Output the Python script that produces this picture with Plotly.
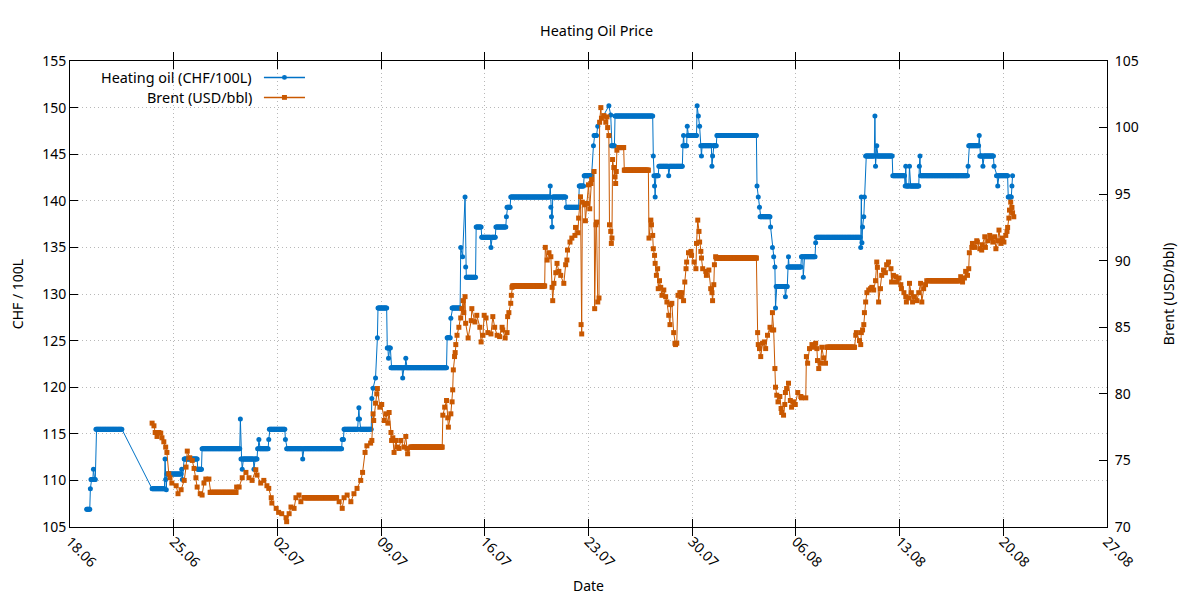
import pandas as pd
import plotly.graph_objects as go

YEAR = "2018"

# heating oil (CHF/100L): spans where the quote stayed flat (start, end, price)
oil_flat = [
    ("06-19 03:00", "06-19 08:00", 106.9),
    ("06-19 10:00", "06-19 13:00", 110.1),
    ("06-19 15:00", "06-19 17:00", 110.1),
    ("06-19 18:00", "06-21 12:00", 115.5),
    ("06-23 13:00", "06-24 09:00", 109.1),
    ("06-24 13:00", "06-25 12:00", 110.7),
    ("06-25 17:00", "06-26 14:00", 112.3),
    ("06-26 15:00", "06-26 21:00", 111.2),
    ("06-26 22:00", "06-29 11:00", 113.4),
    ("06-29 13:00", "06-30 15:00", 112.3),
    ("06-30 16:00", "07-01 09:00", 113.4),
    ("07-01 11:00", "07-02 12:00", 115.5),
    ("07-02 15:00", "07-06 08:00", 113.4),
    ("07-06 09:00", "07-06 11:00", 114.4),
    ("07-06 12:00", "07-08 08:00", 115.5),
    ("07-08 19:00", "07-09 09:00", 128.5),
    ("07-09 10:00", "07-09 15:00", 124.2),
    ("07-09 16:00", "07-13 10:00", 122.1),
    ("07-13 11:00", "07-13 16:00", 125.3),
    ("07-13 19:00", "07-14 08:00", 128.5),
    ("07-14 18:00", "07-15 09:00", 131.8),
    ("07-15 10:00", "07-15 18:00", 137.2),
    ("07-15 19:00", "07-16 17:00", 136.1),
    ("07-16 18:00", "07-17 10:00", 137.2),
    ("07-17 12:00", "07-17 17:00", 139.3),
    ("07-17 18:00", "07-21 11:00", 140.4),
    ("07-21 12:00", "07-22 08:00", 139.3),
    ("07-22 09:00", "07-22 16:00", 141.6),
    ("07-22 17:00", "07-23 05:00", 142.7),
    ("07-23 09:00", "07-23 13:00", 147.0),
    ("07-24 13:00", "07-24 18:00", 145.9),
    ("07-24 19:00", "07-27 08:00", 149.1),
    ("07-27 10:00", "07-27 17:00", 142.7),
    ("07-27 18:00", "07-29 08:00", 143.7),
    ("07-29 09:00", "07-29 15:00", 145.9),
    ("07-29 17:00", "07-30 07:00", 147.0),
    ("07-30 14:00", "07-31 15:00", 145.9),
    ("07-31 16:00", "08-03 08:00", 147.0),
    ("08-03 14:00", "08-04 06:00", 138.3),
    ("08-04 16:00", "08-05 10:00", 130.8),
    ("08-05 11:00", "08-06 08:00", 132.9),
    ("08-06 09:00", "08-07 07:00", 134.0),
    ("08-07 09:00", "08-10 08:00", 136.1),
    ("08-10 17:00", "08-12 12:00", 144.8),
    ("08-12 13:00", "08-13 08:00", 142.7),
    ("08-13 09:00", "08-14 07:00", 141.6),
    ("08-14 10:00", "08-17 14:00", 142.7),
    ("08-17 16:00", "08-18 08:00", 145.9),
    ("08-18 10:00", "08-19 08:00", 144.8),
    ("08-19 13:00", "08-20 07:00", 142.7),
    ("08-20 08:00", "08-20 13:00", 140.4),
]

# heating oil: single quotes between / inside the flat spans
oil_quotes = [
    ("06-19 09:00", 109.1), ("06-19 14:00", 111.2),
    ("06-24 10:00", 112.3), ("06-24 11:00", 110.1), ("06-24 12:00", 109.0),
    ("06-25 13:00", 111.2), ("06-25 14:00", 110.1),
    ("06-29 12:00", 116.6), ("06-29 15:00", 111.2), ("06-30 10:00", 111.2),
    ("06-30 18:00", 114.4), ("07-01 10:00", 114.4), ("07-02 13:00", 114.4),
    ("07-03 17:00", 112.3),
    ("07-07 11:00", 116.6), ("07-07 12:00", 117.8), ("07-07 13:00", 116.6),
    ("07-08 09:00", 118.8), ("07-08 11:00", 119.9), ("07-08 15:00", 121.0),
    ("07-08 18:00", 125.3), ("07-09 12:00", 123.1),
    ("07-10 11:00", 121.0), ("07-10 16:00", 123.1), ("07-13 17:00", 127.4),
    ("07-14 09:00", 135.0), ("07-14 12:00", 134.0), ("07-14 16:00", 140.4),
    ("07-14 17:00", 132.9), ("07-16 10:00", 135.0), ("07-17 11:00", 138.3),
    ("07-20 10:00", 141.6), ("07-20 11:00", 139.3), ("07-20 12:00", 138.3),
    ("07-20 13:00", 137.2),
    ("07-23 08:00", 145.9), ("07-23 15:00", 148.0),
    ("07-24 09:00", 150.2), ("07-24 12:00", 149.2),
    ("07-27 09:00", 144.8), ("07-27 11:00", 141.6), ("07-27 12:00", 140.4),
    ("07-28 10:00", 142.7),
    ("07-29 10:00", 147.0), ("07-29 16:00", 148.0),
    ("07-30 08:00", 150.2), ("07-30 10:00", 149.1), ("07-30 12:00", 148.0),
    ("07-30 15:00", 144.8), ("07-31 08:00", 143.7), ("07-31 09:00", 144.8),
    ("08-03 09:00", 141.6), ("08-03 11:00", 140.4), ("08-03 13:00", 139.3),
    ("08-04 07:00", 137.2), ("08-04 10:00", 135.0), ("08-04 12:00", 134.0),
    ("08-04 14:00", 132.9), ("08-04 15:00", 128.5), ("08-05 07:00", 129.7),
    ("08-05 12:00", 134.0), ("08-06 12:00", 131.8), ("08-07 08:00", 135.5),
    ("08-10 09:00", 135.0), ("08-10 10:00", 140.4), ("08-10 11:00", 135.5),
    ("08-10 12:00", 137.2), ("08-10 14:00", 138.3), ("08-10 15:00", 140.4),
    ("08-11 08:00", 149.1), ("08-11 09:00", 143.7), ("08-11 11:00", 145.9),
    ("08-13 10:00", 143.7), ("08-13 16:00", 143.7),
    ("08-14 08:00", 143.7), ("08-14 09:00", 144.8),
    ("08-17 15:00", 143.7), ("08-18 09:00", 147.0), ("08-18 15:00", 143.7),
    ("08-19 09:00", 143.7), ("08-19 15:00", 141.6),
    ("08-20 14:00", 141.6), ("08-20 15:00", 142.7),
]

# brent (USD/bbl): flat spans
brent_flat = [
    ("06-27 11:00", "06-29 05:00", 72.6),
    ("07-03 20:00", "07-06 00:00", 72.2),
    ("07-11 00:00", "07-13 03:00", 76.0),
    ("07-17 21:00", "07-20 01:00", 88.1),
    ("07-25 01:00", "07-25 09:00", 98.5),
    ("07-25 10:00", "07-27 01:00", 96.8),
    ("07-31 15:00", "08-03 08:00", 90.2),
    ("08-08 02:00", "08-09 23:00", 83.5),
    ("08-14 23:00", "08-17 02:00", 88.5),
]

brent_quotes = [
    ("06-23 13:00", 77.8), ("06-23 16:00", 77.6), ("06-23 18:00", 77.1),
    ("06-23 21:00", 76.8), ("06-24 00:00", 77.1), ("06-24 03:00", 77.05),
    ("06-24 05:00", 76.7), ("06-24 08:00", 76.4), ("06-24 11:00", 76.0),
    ("06-24 13:00", 75.6), ("06-24 16:00", 74.0), ("06-24 18:00", 73.7),
    ("06-24 21:00", 73.3), ("06-25 04:00", 73.1), ("06-25 07:00", 72.5),
    ("06-25 12:00", 72.8), ("06-25 17:00", 73.5), ("06-25 20:00", 74.5),
    ("06-25 22:00", 75.7), ("06-26 02:00", 75.2), ("06-26 06:00", 75.0),
    ("06-26 09:00", 74.4), ("06-26 12:00", 73.7), ("06-26 14:00", 73.0),
    ("06-26 19:00", 72.5), ("06-26 22:00", 72.4), ("06-27 01:00", 73.3),
    ("06-27 04:00", 73.6), ("06-27 09:00", 73.6),
    ("06-29 06:00", 73.0), ("06-29 10:00", 73.0), ("06-29 15:00", 73.7),
    ("06-29 21:00", 74.1), ("06-30 02:00", 73.7), ("06-30 07:00", 73.5),
    ("06-30 13:00", 74.3), ("06-30 15:00", 73.9), ("06-30 21:00", 73.3),
    ("07-01 02:00", 73.5), ("07-01 07:00", 73.1), ("07-01 10:00", 72.9),
    ("07-01 14:00", 72.2), ("07-01 15:00", 71.8), ("07-01 22:00", 71.4),
    ("07-02 02:00", 71.1), ("07-02 07:00", 71.0), ("07-02 14:00", 70.7),
    ("07-02 15:00", 70.4), ("07-02 19:00", 71.0), ("07-02 22:00", 71.5),
    ("07-03 03:00", 71.4), ("07-03 06:00", 72.2), ("07-03 11:00", 72.4),
    ("07-03 14:00", 71.9), ("07-03 19:00", 72.2),
    ("07-06 04:00", 71.9), ("07-06 09:00", 71.4), ("07-06 12:00", 72.2),
    ("07-06 17:00", 72.4), ("07-06 23:00", 71.9), ("07-07 04:00", 72.5),
    ("07-07 09:00", 72.9), ("07-07 15:00", 73.5), ("07-07 18:00", 74.1),
    ("07-07 22:00", 75.6), ("07-08 01:00", 76.1), ("07-08 07:00", 76.3),
    ("07-08 09:00", 76.5), ("07-08 11:00", 78.5), ("07-08 12:00", 78.0),
    ("07-08 15:00", 79.3), ("07-08 17:00", 80.0), ("07-08 18:00", 80.4),
    ("07-08 22:00", 79.0), ("07-09 01:00", 79.2), ("07-09 05:00", 78.0),
    ("07-09 08:00", 78.5), ("07-09 11:00", 77.8), ("07-09 13:00", 78.6),
    ("07-09 16:00", 77.1), ("07-09 17:00", 76.5), ("07-09 19:00", 76.7),
    ("07-09 21:00", 75.6), ("07-10 00:00", 76.5), ("07-10 02:00", 76.0),
    ("07-10 05:00", 75.9), ("07-10 08:00", 76.5), ("07-10 13:00", 76.0),
    ("07-10 16:00", 76.8), ("07-10 18:00", 75.9), ("07-10 19:00", 75.5),
    ("07-13 04:00", 78.4), ("07-13 07:00", 79.0), ("07-13 10:00", 79.5),
    ("07-13 12:00", 78.2), ("07-13 13:00", 77.5), ("07-13 17:00", 78.5),
    ("07-13 19:00", 79.4), ("07-13 20:00", 80.3), ("07-13 21:00", 81.8),
    ("07-13 23:00", 82.8), ("07-14 00:00", 83.1), ("07-14 01:00", 83.7),
    ("07-14 03:00", 84.4), ("07-14 06:00", 85.0), ("07-14 09:00", 85.7),
    ("07-14 11:00", 86.4), ("07-14 13:00", 87.0), ("07-14 14:00", 86.1),
    ("07-14 16:00", 87.3), ("07-14 17:00", 85.3), ("07-14 21:00", 84.2),
    ("07-15 02:00", 85.5), ("07-15 03:00", 86.4), ("07-15 08:00", 85.4),
    ("07-15 11:00", 85.9), ("07-15 16:00", 85.0), ("07-15 18:00", 83.9),
    ("07-15 21:00", 84.4), ("07-15 23:00", 85.9), ("07-16 02:00", 85.7),
    ("07-16 05:00", 84.6), ("07-16 10:00", 84.5), ("07-16 13:00", 85.8),
    ("07-16 16:00", 85.0), ("07-16 20:00", 84.4), ("07-17 00:00", 84.3),
    ("07-17 04:00", 85.0), ("07-17 05:00", 84.8), ("07-17 09:00", 84.2),
    ("07-17 12:00", 84.6), ("07-17 13:00", 85.8), ("07-17 15:00", 86.1),
    ("07-17 18:00", 86.8), ("07-17 19:00", 87.4), ("07-17 20:00", 88.0),
    ("07-20 02:00", 91.0), ("07-20 05:00", 90.05), ("07-20 08:00", 90.6),
    ("07-20 11:00", 90.3), ("07-20 13:00", 88.0), ("07-20 14:00", 87.0),
    ("07-20 16:00", 88.3), ("07-20 19:00", 89.1), ("07-20 21:00", 89.8),
    ("07-21 00:00", 89.2), ("07-21 03:00", 88.9), ("07-21 08:00", 88.3),
    ("07-21 11:00", 89.7), ("07-21 13:00", 90.05), ("07-21 14:00", 90.8),
    ("07-21 18:00", 91.4), ("07-21 21:00", 91.7), ("07-22 02:00", 91.9),
    ("07-22 03:00", 92.5), ("07-22 07:00", 92.1), ("07-22 08:00", 93.2),
    ("07-22 11:00", 94.8), ("07-22 12:00", 85.2), ("07-22 13:00", 84.5),
    ("07-22 14:00", 94.4), ("07-22 18:00", 94.2), ("07-22 19:00", 93.0),
    ("07-22 21:00", 94.3), ("07-23 00:00", 95.7), ("07-23 02:00", 93.9),
    ("07-23 04:00", 95.8), ("07-23 05:00", 96.1), ("07-23 09:00", 96.7),
    ("07-23 10:00", 86.4), ("07-23 12:00", 92.7), ("07-23 13:00", 92.9),
    ("07-23 15:00", 86.9), ("07-23 17:00", 87.2), ("07-23 18:00", 100.4),
    ("07-23 20:00", 101.5), ("07-23 21:00", 100.7), ("07-24 01:00", 100.9),
    ("07-24 04:00", 100.4), ("07-24 06:00", 100.8), ("07-24 07:00", 100.0),
    ("07-24 09:00", 99.4), ("07-24 10:00", 92.7), ("07-24 12:00", 92.2),
    ("07-24 13:00", 91.3), ("07-24 14:00", 91.7), ("07-24 15:00", 97.6),
    ("07-24 17:00", 97.0), ("07-24 19:00", 96.3), ("07-24 20:00", 95.8),
    ("07-24 21:00", 96.7), ("07-24 22:00", 98.3),
    ("07-27 02:00", 91.7), ("07-27 05:00", 93.05), ("07-27 06:00", 92.7),
    ("07-27 08:00", 91.9), ("07-27 09:00", 90.9), ("07-27 11:00", 90.4),
    ("07-27 12:00", 89.8), ("07-27 14:00", 88.9), ("07-27 16:00", 89.4),
    ("07-27 17:00", 87.9), ("07-27 19:00", 88.5), ("07-27 21:00", 88.0),
    ("07-27 23:00", 87.4), ("07-28 02:00", 87.8), ("07-28 05:00", 87.3),
    ("07-28 07:00", 86.9), ("07-28 10:00", 85.9), ("07-28 12:00", 85.2),
    ("07-28 13:00", 86.7), ("07-28 15:00", 86.8), ("07-28 18:00", 84.6),
    ("07-28 20:00", 83.8), ("07-28 21:00", 83.7), ("07-28 23:00", 83.8),
    ("07-29 01:00", 87.4), ("07-29 04:00", 87.6), ("07-29 06:00", 87.3),
    ("07-29 07:00", 87.6), ("07-29 10:00", 87.0), ("07-29 12:00", 88.4),
    ("07-29 14:00", 89.4), ("07-29 15:00", 89.9), ("07-29 18:00", 90.6),
    ("07-29 22:00", 90.7), ("07-29 23:00", 90.4), ("07-30 03:00", 89.9),
    ("07-30 06:00", 89.4), ("07-30 07:00", 91.3), ("07-30 09:00", 93.05),
    ("07-30 11:00", 92.2), ("07-30 12:00", 91.4), ("07-30 14:00", 90.7),
    ("07-30 15:00", 90.2), ("07-30 17:00", 89.4), ("07-30 22:00", 89.2),
    ("07-30 23:00", 88.9), ("07-31 03:00", 89.3), ("07-31 06:00", 87.9),
    ("07-31 08:00", 87.6), ("07-31 09:00", 87.0), ("07-31 11:00", 88.2),
    ("07-31 12:00", 89.7), ("07-31 14:00", 90.3),
    ("08-03 10:00", 84.6), ("08-03 11:00", 83.7), ("08-03 13:00", 83.4),
    ("08-03 15:00", 82.8), ("08-03 18:00", 83.8), ("08-03 21:00", 83.9),
    ("08-03 23:00", 83.4), ("08-04 02:00", 84.4), ("08-04 06:00", 85.0),
    ("08-04 09:00", 84.8), ("08-04 10:00", 86.1), ("08-04 12:00", 84.8),
    ("08-04 14:00", 81.9), ("08-04 15:00", 80.5), ("08-04 17:00", 79.9),
    ("08-04 19:00", 79.4), ("08-04 22:00", 79.8), ("08-05 00:00", 78.9),
    ("08-05 01:00", 78.6), ("08-05 04:00", 78.4), ("08-05 06:00", 79.2),
    ("08-05 07:00", 80.1), ("08-05 09:00", 80.4), ("08-05 12:00", 80.8),
    ("08-05 15:00", 79.5), ("08-05 17:00", 79.0), ("08-05 20:00", 79.4),
    ("08-05 23:00", 79.2), ("08-06 03:00", 80.1), ("08-06 08:00", 79.8),
    ("08-06 09:00", 79.7), ("08-06 16:00", 79.7), ("08-06 17:00", 82.8),
    ("08-06 19:00", 82.3), ("08-06 22:00", 83.4), ("08-07 02:00", 83.7),
    ("08-07 05:00", 83.5), ("08-07 08:00", 83.8), ("08-07 10:00", 83.4),
    ("08-07 11:00", 82.5), ("08-07 13:00", 81.9), ("08-07 16:00", 82.3),
    ("08-07 18:00", 83.5), ("08-07 21:00", 82.7), ("08-08 00:00", 82.3),
    ("08-10 01:00", 84.4), ("08-10 02:00", 84.6), ("08-10 07:00", 84.0),
    ("08-10 09:00", 83.7), ("08-10 10:00", 84.6), ("08-10 12:00", 84.8),
    ("08-10 14:00", 85.2), ("08-10 15:00", 86.1), ("08-10 17:00", 86.9),
    ("08-10 19:00", 87.6), ("08-10 22:00", 87.8), ("08-11 01:00", 87.9),
    ("08-11 03:00", 88.0), ("08-11 06:00", 87.8), ("08-11 09:00", 88.5),
    ("08-11 11:00", 89.9), ("08-11 12:00", 89.5), ("08-11 14:00", 86.9),
    ("08-11 17:00", 87.9), ("08-11 19:00", 88.9), ("08-11 22:00", 89.3),
    ("08-12 01:00", 89.1), ("08-12 03:00", 89.7), ("08-12 06:00", 89.9),
    ("08-12 10:00", 89.4), ("08-12 11:00", 88.4), ("08-12 14:00", 88.9),
    ("08-12 18:00", 88.8), ("08-12 19:00", 88.4), ("08-12 23:00", 88.7),
    ("08-13 02:00", 88.2), ("08-13 03:00", 87.9), ("08-13 07:00", 87.6),
    ("08-13 10:00", 87.3), ("08-13 11:00", 86.9), ("08-13 15:00", 87.2),
    ("08-13 16:00", 88.3), ("08-13 19:00", 87.6), ("08-13 21:00", 86.9),
    ("08-14 00:00", 87.3), ("08-14 04:00", 87.0), ("08-14 07:00", 87.6),
    ("08-14 10:00", 88.3), ("08-14 12:00", 86.9), ("08-14 15:00", 87.9),
    ("08-14 18:00", 88.2), ("08-14 20:00", 88.5),
    ("08-17 03:00", 88.8), ("08-17 06:00", 88.4), ("08-17 09:00", 88.7),
    ("08-17 11:00", 89.2), ("08-17 14:00", 88.9), ("08-17 16:00", 89.4),
    ("08-17 17:00", 90.6), ("08-17 21:00", 91.0), ("08-17 22:00", 91.3),
    ("08-18 02:00", 91.0), ("08-18 05:00", 91.5), ("08-18 06:00", 91.4),
    ("08-18 10:00", 90.9), ("08-18 13:00", 90.8), ("08-18 14:00", 91.2),
    ("08-18 18:00", 91.8), ("08-18 19:00", 91.0), ("08-18 23:00", 91.5),
    ("08-19 02:00", 91.9), ("08-19 04:00", 91.7), ("08-19 07:00", 91.4),
    ("08-19 10:00", 91.8), ("08-19 12:00", 90.9), ("08-19 15:00", 91.5),
    ("08-19 17:00", 92.3), ("08-19 20:00", 91.3), ("08-19 22:00", 91.7),
    ("08-20 01:00", 91.4), ("08-20 04:00", 91.9), ("08-20 06:00", 92.2),
    ("08-20 07:00", 92.5), ("08-20 09:00", 93.2), ("08-20 10:00", 93.8),
    ("08-20 12:00", 94.4), ("08-20 14:00", 94.0), ("08-20 15:00", 93.6),
    ("08-20 17:00", 93.3),
]

OIL_COLOR = "#0072c6"
BRENT_COLOR = "#c95800"
FONT = "Noto Sans"


def to_series(flat, quotes):
    # flat spans are hourly quotes that did not move
    vals = {}
    for start, end, price in flat:
        for t in pd.date_range(f"{YEAR}-{start}", f"{YEAR}-{end}", freq="h"):
            vals[t] = price
    for t, price in quotes:
        vals[pd.Timestamp(f"{YEAR}-{t}")] = price
    return pd.Series(vals).sort_index()


oil = to_series(oil_flat, oil_quotes)
brent = to_series(brent_flat, brent_quotes)

fig = go.Figure()
fig.add_trace(go.Scatter(
    x=oil.index, y=oil.values, name="Heating oil (CHF/100L)",
    mode="lines+markers", line=dict(color=OIL_COLOR, width=1),
    marker=dict(symbol="circle", size=5, color=OIL_COLOR),
))
fig.add_trace(go.Scatter(
    x=brent.index, y=brent.values, name="Brent (USD/bbl)", yaxis="y2",
    mode="lines+markers", line=dict(color=BRENT_COLOR, width=1),
    marker=dict(symbol="square", size=5, color=BRENT_COLOR),
))

axis_font = dict(family=FONT, size=14, color="black")
text_font = dict(family=FONT, size=14.4, color="black")
grid = dict(showgrid=True, gridcolor="#b8b8b8", griddash="1px,3px", gridwidth=1)
# the page sits 8px in from the window corner, so margins are set for that
fig.update_layout(
    width=1200, height=600,
    margin=dict(l=62, r=101, t=53, b=81, autoexpand=False),
    paper_bgcolor="white", plot_bgcolor="white",
    font=axis_font,
    showlegend=False,
    title=dict(text="Heating Oil Price", x=0.4905, xanchor="center",
               y=0.962, yanchor="middle", automargin=False, font=text_font),
    xaxis=dict(
        type="date", automargin=False,
        range=[f"{YEAR}-06-18", f"{YEAR}-08-27"],
        tick0=f"{YEAR}-06-18", dtick=7 * 86400000, tickformat="%d.%m",
        tickangle=45, ticks="inside", ticklen=8, tickcolor="black",
        showline=True, linecolor="black", linewidth=1, mirror="allticks",
        zeroline=False, **grid,
        title=dict(text="Date", standoff=11, font=axis_font),
    ),
    yaxis=dict(
        range=[105, 155], dtick=5, automargin=False,
        ticks="inside", ticklen=8, tickcolor="black",
        showline=True, linecolor="black", linewidth=1, mirror=True,
        zeroline=False, **grid,
        title=dict(text="CHF / 100L", standoff=16, font=axis_font),
    ),
    yaxis2=dict(
        range=[70, 105], dtick=5, overlaying="y", side="right",
        automargin=False, ticklabelstandoff=4,
        ticks="inside", ticklen=8, tickcolor="black",
        showline=True, linecolor="black", linewidth=1,
        showgrid=False, zeroline=False,
        title=dict(text="Brent (USD/bbl)", standoff=26, font=axis_font),
    ),
)

# gnuplot-style key: text on the left, sample line with marker on the right
key_rows = [("Heating oil (CHF/100L)", OIL_COLOR, "circle", 0.9648),
            ("Brent (USD/bbl)", BRENT_COLOR, "square", 0.9219)]
for label, color, shape, ky in key_rows:
    fig.add_annotation(xref="paper", yref="paper", x=0.177, y=ky,
                       text=label, showarrow=False, xanchor="right",
                       yanchor="middle", font=text_font)
    fig.add_shape(type="line", xref="paper", yref="paper",
                  x0=0.1870, x1=0.2266, y0=ky, y1=ky,
                  line=dict(color=color, width=1.5))
    fig.add_shape(type="circle" if shape == "circle" else "rect",
                  xref="paper", yref="paper",
                  x0=0.2068 - 0.0024, x1=0.2068 + 0.0024,
                  y0=ky - 0.0052, y1=ky + 0.0052,
                  fillcolor=color, line=dict(color=color, width=0))

fig.write_html("out.html")
